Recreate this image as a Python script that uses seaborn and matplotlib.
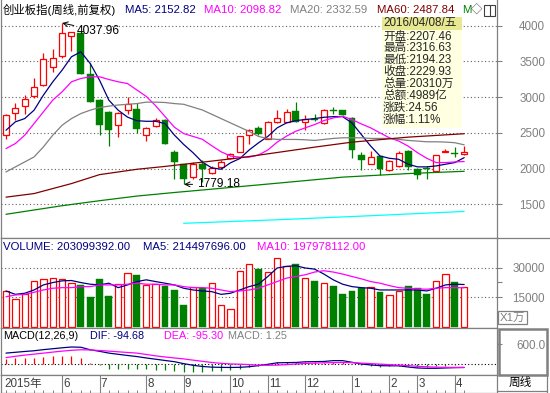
import numpy as np
import matplotlib
matplotlib.use("Agg")
import matplotlib.pyplot as plt
from matplotlib.patches import Rectangle
import seaborn as sns

# weekly bars of 创业板指, 2015-04-24 .. 2016-04-08 (50 weeks)
opens = [2466, 2785, 2878, 3018, 3177, 3416, 3580, 3860, 3900, 3322,
         2958, 2794, 2607, 2817, 2831, 2466, 2593, 2677, 2232, 2059,
         1882, 2069, 1938, 2022, 2153, 2232, 2466, 2574, 2420, 2653,
         2653, 2803, 2653, 2700, 2639, 2826, 2817, 2714, 2186, 2069,
         2172, 1975, 2031, 2242, 1999, 2013, 1966, 2228, 2215, 2207.46]
highs = [2760, 2920, 3028, 3262, 3612, 3673, 4037.96, 3917, 3910, 3472,
         2980, 2800, 2794, 3004, 2920, 2580, 2714, 2690, 2256, 2070,
         2092, 2116, 2031, 2116, 2218, 2460, 2560, 2593, 2660, 2817,
         2840, 2934, 2747, 2761, 2840, 2864, 2826, 2720, 2232, 2242,
         2180, 2125, 2246, 2256, 2013, 2031, 2186, 2280, 2302, 2316.63]
lows = [2420, 2677, 2770, 2995, 3159, 3346, 3542, 3650, 3322, 2934,
        2466, 2312, 2443, 2770, 2504, 2387, 2583, 2349, 1858, 1779.18,
        1858, 1812, 1929, 1999, 2139, 2232, 2340, 2466, 2420, 2640,
        2653, 2653, 2536, 2667, 2630, 2770, 2747, 2153, 1985, 2069,
        1905, 1966, 2022, 1985, 1858, 1858, 1966, 2226, 2162, 2194.23]
closes = [2747, 2855, 2981, 3149, 3528, 3551, 3893, 3907, 3322, 2934,
          2607, 2537, 2780, 2901, 2551, 2574, 2686, 2349, 2092, 1858,
          2059, 1999, 2013, 2092, 2209, 2452, 2536, 2480, 2653, 2714,
          2794, 2653, 2700, 2686, 2826, 2808, 2747, 2256, 2125, 2162,
          1999, 2106, 2218, 2022, 1905, 1999, 2186, 2240, 2205, 2229.93]

# price moving averages
ma5 = [2537, 2654, 2700, 2817, 3028, 3214, 3378, 3565, 3635, 3472,
       3238, 2958, 2817, 2720, 2670, 2662, 2662, 2630, 2470, 2338,
       2222, 2090, 2010, 1991, 2080, 2140, 2260, 2360, 2450, 2570,
       2639, 2672, 2686, 2700, 2718, 2727, 2727, 2639, 2477, 2315,
       2176, 2144, 2130, 2061, 2024, 2024, 2037, 2061, 2084, 2152.82]
ma10 = [2280, 2350, 2467, 2630, 2794, 2958, 3075, 3215, 3261, 3285,
        3285, 3247, 3215, 3190, 3100, 3010, 2880, 2730, 2580, 2490,
        2450, 2410, 2320, 2235, 2176, 2160, 2160, 2190, 2260, 2370,
        2454, 2523, 2570, 2616, 2672, 2709, 2732, 2686, 2625, 2570,
        2500, 2431, 2385, 2315, 2223, 2144, 2084, 2084, 2093, 2098.82]
ma20 = [1953, 2023, 2093, 2163, 2303, 2467, 2607, 2700, 2770, 2817,
        2855, 2874, 2890, 2900, 2910, 2930, 2930, 2925, 2910, 2900,
        2860, 2820, 2760, 2700, 2640, 2580, 2520, 2450, 2420, 2408,
        2408, 2408, 2403, 2394, 2408, 2422, 2431, 2431, 2431, 2422,
        2422, 2422, 2408, 2394, 2385, 2375, 2375, 2371, 2362, 2332.59]
ma60_idx = [0, 3, 7, 10, 14, 17, 21, 25, 29, 33, 37, 43, 49]
ma60 = [1600, 1650, 1790, 1915, 1990, 2030, 2090, 2150, 2225, 2300, 2370, 2440, 2487.84]
ma120_idx = [0, 6, 10, 14, 18, 21, 29, 36, 43, 49]
ma120 = [1360, 1480, 1550, 1615, 1665, 1700, 1795, 1880, 1930, 1962]
ma250_idx = [19, 29, 39, 49]
ma250 = [1234, 1283, 1340, 1400]

# volume, in 万 shares
volume = [18170, 14050, 16620, 23480, 24340, 25000, 24500, 22120, 21250, 15240,
          24500, 15590, 21940, 27430, 26040, 21420, 21610, 20740, 18840, 11120,
          20070, 19860, 22120, 10960, 8900, 28460, 31900, 29130, 27790, 35000,
          30670, 31900, 24700, 23310, 22440, 20740, 16620, 18170, 19550, 20380,
          17500, 16110, 18320, 20740, 19550, 16620, 23310, 26760, 22640, 20310]
vol_ma5 = [18170, 16450, 17000, 18680, 21250, 22440, 23310, 23480, 22440, 21610,
           21250, 22120, 19860, 21250, 22950, 23830, 22950, 22120, 21250, 19550,
           18680, 18170, 17830, 16450, 17000, 18680, 20380, 21610, 25520, 29850,
           30670, 31000, 29850, 29280, 26760, 23830, 21610, 20380, 19860, 19550,
           18680, 18680, 18680, 18680, 18680, 18170, 19550, 21250, 21610, 21450]
vol_ma10 = [15240, 16110, 16450, 17500, 18680, 19550, 19860, 19860, 20380, 20380,
            21250, 21250, 21250, 21610, 22120, 21610, 21610, 21250, 21250, 20380,
            19860, 19860, 19550, 18680, 17830, 18170, 18680, 19550, 21250, 22950,
            24700, 25520, 26400, 27790, 28460, 27790, 26760, 25520, 24340, 22950,
            22120, 20890, 19860, 19550, 19210, 19040, 19550, 19860, 19860, 19798]

# MACD(12,26,9)
dif = [336, 360, 385, 406, 440, 467, 495, 519, 512, 436,
       390, 336, 300, 265, 232, 190, 153, 115, 79, 20,
       -30, -65, -85, -92, -95, -90, -73, -40, 0, 45,
       50, 55, 75, 80, 85, 110, 110, 60, 10, -20,
       -40, -45, -45, -80, -110, -120, -120, -110, -100, -94.68]
dea = [201, 240, 275, 305, 335, 366, 395, 420, 436, 430,
       415, 395, 375, 355, 336, 295, 253, 220, 190, 162,
       125, 90, 55, 30, 10, 3, -10, -25, -30, -25,
       -10, 10, 25, 35, 45, 50, 55, 50, 35, 20,
       5, -10, -25, -40, -60, -75, -85, -92, -95, -95.30]
macd = [150, 180, 180, 200, 230, 260, 255, 260, 180, 50,
        -20, -145, -150, -150, -150, -150, -160, -165, -200, -240,
        -245, -230, -210, -190, -160, -130, -80, -40, 20, 60,
        60, 70, 60, 60, 50, 60, 60, 20, -20, -50,
        -70, -60, -50, -60, -80, -80, -60, -40, -10, 1.25]

month_idx = [6, 10, 15, 19, 24, 28, 32, 37, 41, 44, 48]
month_labels = ["6", "7", "8", "9", "10", "11", "12", "1", "2", "3", "4"]

last_volume_raw = 203099392.00
last_vol_ma5_raw = 214497696.00
last_vol_ma10_raw = 197978112.00
tip_date = "2016/04/08/五"
tip_amount = "4989亿"
tip_change = 24.56
tip_pct = "1.11%"

RED, GREEN, NAVY, MAG = "#ff0000", "#008000", "#000080", "#ff00ff"
GRAY, DRED, CYAN = "#808080", "#800000", "#00ffff"

sns.set_style("white")
plt.rcParams["font.family"] = ["Liberation Sans", "Noto Sans CJK SC", "DejaVu Sans"]
plt.rcParams["font.size"] = 8.2

W, H = 550, 393
fig = plt.figure(figsize=(5.5, 3.93), dpi=100)


def px_axes(x0, y0, x1, y1):
    return fig.add_axes([x0 / W, 1 - y1 / H, (x1 - x0) / W, (y1 - y0) / H])


ax_k = px_axes(1, 0, 497, 238)
ax_v = px_axes(1, 238, 497, 327.5)
ax_m = px_axes(1, 327.5, 497, 374.5)
ax_d = px_axes(1, 374.5, 497, 393)

x = np.arange(len(opens))
o, h, l, c = map(np.asarray, (opens, highs, lows, closes))
up = c >= o
cols = np.where(up, RED, GREEN)
XLIM = (-0.535, 52.51)

# --- candles ---
ax_k.vlines(x, l, h, colors=cols, lw=0.9, zorder=3)
body_b = np.minimum(o, c)
body_h = np.maximum(np.abs(c - o), 9)
ax_k.bar(x[up], body_h[up], bottom=body_b[up], width=0.64, facecolor="white",
         edgecolor=RED, lw=0.9, zorder=4)
ax_k.bar(x[~up], body_h[~up], bottom=body_b[~up], width=0.74, color=GREEN,
         edgecolor=GREEN, lw=0.3, zorder=4)

for xs, ys, col in [(x, ma5, NAVY), (x, ma10, MAG), (x, ma20, GRAY),
                    (ma60_idx, ma60, DRED), (ma120_idx, ma120, GREEN),
                    (ma250_idx, ma250, CYAN)]:
    sns.lineplot(x=np.asarray(xs), y=np.asarray(ys), ax=ax_k, color=col,
                 lw=0.9, zorder=5, legend=False)

ax_k.annotate("4037.96", xy=(6, highs[6]), xytext=(7.6, 3928), va="center",
              ha="left", fontsize=8.6, color="black",
              arrowprops=dict(arrowstyle="->", color="black", lw=0.7,
                              shrinkA=0, shrinkB=0), zorder=6)
ax_k.annotate("1779.18", xy=(19.05, lows[19]), xytext=(20.45, lows[19]),
              va="center", ha="left", fontsize=8.6, color="black",
              arrowprops=dict(arrowstyle="->", color="black", lw=0.7,
                              shrinkA=1, shrinkB=0), zorder=6)
ax_k.set_ylim(1028, 4360)
ax_k.set_yticks([1500, 2000, 2500, 3000, 3500, 4000])

# --- volume ---
v = np.asarray(volume)
ax_v.bar(x[up], v[up], width=0.68, facecolor="white", edgecolor=RED, lw=0.9, zorder=3)
ax_v.bar(x[~up], v[~up], width=0.74, color=GREEN, edgecolor=GREEN, lw=0.3, zorder=3)
sns.lineplot(x=x, y=np.asarray(vol_ma5), ax=ax_v, color=NAVY, lw=0.9, zorder=5, legend=False)
sns.lineplot(x=x, y=np.asarray(vol_ma10), ax=ax_v, color=MAG, lw=0.9, zorder=5, legend=False)
ax_v.set_ylim(-407, 45100)
ax_v.set_yticks([15000, 30000])
ax_v.set_yticks([22500], minor=True)

# --- MACD ---
mc = np.asarray(macd)
ax_m.vlines(x, 0, mc, colors=np.where(mc >= 0, RED, GREEN), lw=0.9, zorder=3)
ax_m.axhline(0, color="black", lw=0.8, ls=(0, (1, 2)), zorder=2)
sns.lineplot(x=x, y=np.asarray(dif), ax=ax_m, color=NAVY, lw=0.9, zorder=5, legend=False)
sns.lineplot(x=x, y=np.asarray(dea), ax=ax_m, color=MAG, lw=0.9, zorder=6, legend=False)
ax_m.set_ylim(-306, 1104)
ax_m.set_yticks([600])
ax_m.yaxis.set_major_formatter(matplotlib.ticker.FormatStrFormatter("%.1f"))

for ax in (ax_k, ax_v, ax_m, ax_d):
    ax.set_xlim(*XLIM)
    ax.set_xlabel("")
    ax.set_ylabel("")
    ax.set_xticks([])
    for s in ax.spines.values():
        s.set_color(GRAY)
        s.set_linewidth(0.9)
ax_k.spines["top"].set_visible(False)

for ax in (ax_k, ax_v, ax_m):
    ax.grid(False)
    ax.yaxis.tick_right()
    ax.tick_params(axis="y", which="both", direction="out", length=3.6, width=0.8,
                   color=GRAY, labelcolor=GRAY, labelsize=8.4, pad=31)
for ax in (ax_k, ax_v):
    for yv in ax.get_yticks():
        ax.axhline(yv, color="#606060", lw=0.8, ls=(0, (1, 2.2)), zorder=1)

# --- date strip ---
ax_d.set_ylim(0, 1)
ax_d.set_yticks([])
ax_d.vlines(month_idx, 0, 1, color=GRAY, lw=0.8)
ax_d.vlines(x, 0, 0.14, color=GRAY, lw=0.7)
ax_d.text(-0.15, 0.5, "2015年", ha="left", va="center", color="#404040", fontsize=8.4)
for mi, lab in zip(month_idx, month_labels):
    ax_d.text(mi + 0.12, 0.5, lab, ha="left", va="center", color="#404040", fontsize=8.4)

# --- overlay in pixel coordinates: headers, tooltip, right column frames ---
ov = fig.add_axes([0, 0, 1, 1])
ov.set_zorder(10)
ov.set_xlim(0, W)
ov.set_ylim(H, 0)
ov.axis("off")

head = [("创业板指(周线,前复权)", 3, "black"),
        (f"MA5: {ma5[-1]:.2f}", 125, NAVY),
        (f"MA10: {ma10[-1]:.2f}", 204, MAG),
        (f"MA20: {ma20[-1]:.2f}", 290, GRAY),
        (f"MA60: {ma60[-1]:.2f}", 377, DRED),
        ("M", 462, GREEN),
        ("◇", 471, "#404040")]
for txt, xx, col in head:
    ov.text(xx, 10, txt, color=col, ha="left", va="center")
ov.add_patch(Rectangle((484, 5), 11, 11, fill=False, ec="#404040", lw=0.8))
ov.plot([490, 490], [5, 16], color="#404040", lw=0.8)

vhead = [(f"VOLUME: {last_volume_raw:.2f}", 3, NAVY),
         (f"MA5: {last_vol_ma5_raw:.2f}", 143, NAVY),
         (f"MA10: {last_vol_ma10_raw:.2f}", 257, MAG)]
for txt, xx, col in vhead:
    ov.text(xx, 247, txt, color=col, ha="left", va="center")

mhead = [("MACD(12,26,9)", 3, "black"),
         (f"DIF: {dif[-1]:.2f}", 90, NAVY),
         (f"DEA: {dea[-1]:.2f}", 164, MAG),
         (f"MACD: {macd[-1]:.2f}", 228, GRAY)]
for txt, xx, col in mhead:
    ov.text(xx, 336, txt, color=col, ha="left", va="center", fontsize=7.8)

# tooltip
ov.add_patch(Rectangle((382, 30), 80, 98, fc="#ffffe1", ec="none"))
ov.add_patch(Rectangle((382, 17), 80, 13, fc="#e8e890", ec="none"))
tip_font = ["Liberation Sans", "Noto Sans CJK SC"]
ov.text(383, 23.5, tip_date, ha="left", va="center", family=tip_font, fontsize=8.4)
tip_lines = [f"开盘:{opens[-1]:.2f}", f"最高:{highs[-1]:.2f}",
             f"最低:{lows[-1]:.2f}", f"收盘:{closes[-1]:.2f}",
             f"总量:{volume[-1]}万", f"总额:{tip_amount}",
             f"涨跌:{tip_change:.2f}", f"涨幅:{tip_pct}"]
for k, t in enumerate(tip_lines):
    ov.text(383, 36.5 + 11.9 * k, t, ha="left", va="center", family=tip_font,
            fontsize=8.4)

# right column frames
ov.plot([497, 550], [238, 238], color=GRAY, lw=0.9)
ov.add_patch(Rectangle((498, 311), 29, 13, fill=False, ec=GRAY, lw=0.9))
ov.text(512.5, 317.5, "X1万", ha="center", va="center", color=GRAY, fontsize=8.2)
ov.add_patch(Rectangle((498.5, 328.5), 48.5, 46, fill=False, ec=GRAY, lw=1.8))
ov.plot([497, 547], [391, 391], color=GRAY, lw=0.9)
ov.plot([547, 547], [374.5, 393], color=GRAY, lw=0.9)
ov.text(520, 383, "周线", ha="center", va="center", color="black", fontsize=8.4)

for ax in (ax_k, ax_v, ax_m):
    plt.setp(ax.get_yticklabels(), ha="right")

fig.savefig("out.png", dpi=100)
